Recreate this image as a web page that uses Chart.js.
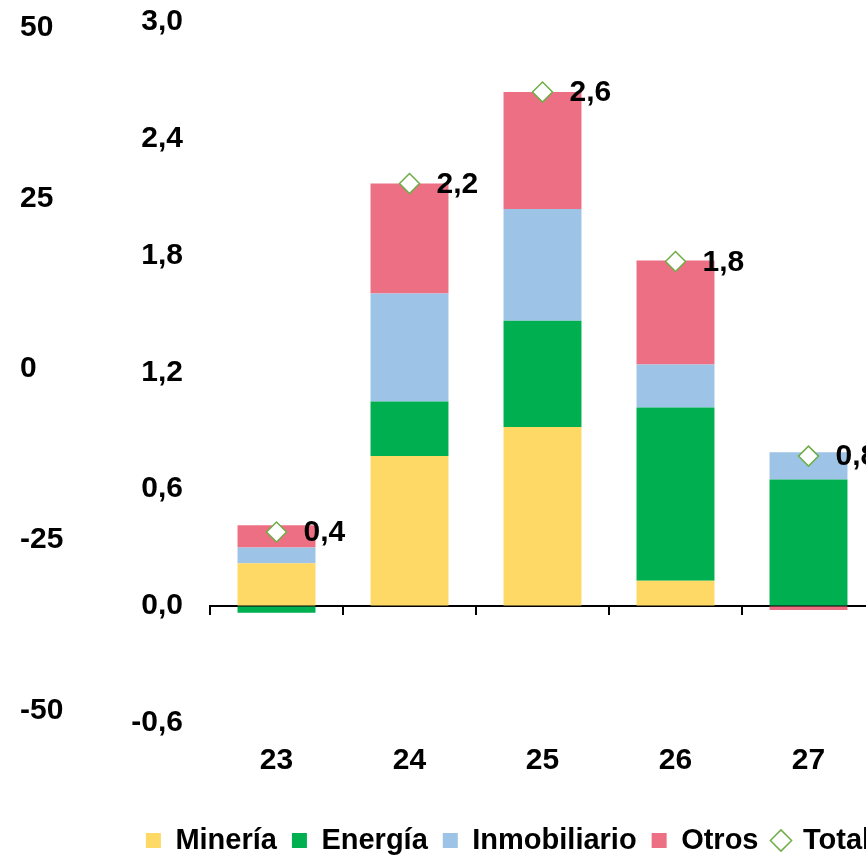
<!DOCTYPE html>
<html>
<head>
<meta charset="utf-8">
<script src="https://cdn.jsdelivr.net/npm/chart.js@4.4.1/dist/chart.umd.min.js"></script>
<style>
  html, body { margin: 0; padding: 0; overflow: hidden; background: #fff; }
  #wrap { position: absolute; left: 0; top: 0; width: 1016px; height: 857px; }
</style>
</head>
<body>
<div id="wrap"><canvas id="c" width="1016" height="857"></canvas></div>
<script>
// ---- data ----
const categories   = ['23', '24', '25', '26', '27'];
const mineria      = [0.22, 0.77, 0.92, 0.13, 0.00];
const energia      = [-0.035, 0.28, 0.545, 0.89, 0.65];
const inmobiliario = [0.08, 0.555, 0.575, 0.22, 0.14];
const otros        = [0.115, 0.565, 0.60, 0.535, -0.02];
const total        = [0.38, 2.17, 2.64, 1.77, 0.77];
const leftTicks    = [-0.6, 0, 0.6, 1.2, 1.8, 2.4, 3.0];
const outerTicks   = [-50, -25, 0, 25, 50];

const FONT = "'Liberation Sans', Arial, Helvetica, sans-serif";
const fmt = v => v.toFixed(1).replace('.', ',');

const totalLabels = {
  id: 'totalLabels',
  afterDatasetsDraw(chart) {
    const idx = chart.data.datasets.findIndex(d => d.label === 'Total');
    const meta = chart.getDatasetMeta(idx);
    const ctx = chart.ctx;
    ctx.save();
    ctx.font = 'bold 30px ' + FONT;
    ctx.fillStyle = '#000';
    ctx.textAlign = 'left';
    ctx.textBaseline = 'middle';
    meta.data.forEach((pt, i) => {
      ctx.fillText(fmt(total[i]), pt.x + 27, pt.y + 1);
    });
    ctx.restore();
  }
};

new Chart(document.getElementById('c'), {
  data: {
    labels: categories,
    datasets: [
      { type: 'bar', label: 'Minería', data: mineria, backgroundColor: '#FFD966', pointStyle: 'rect', xAxisID: 'x', yAxisID: 'y' },
      { type: 'bar', label: 'Energía', data: energia, backgroundColor: '#00B050', pointStyle: 'rect', xAxisID: 'x', yAxisID: 'y' },
      { type: 'bar', label: 'Inmobiliario', data: inmobiliario, backgroundColor: '#9DC3E6', pointStyle: 'rect', xAxisID: 'x', yAxisID: 'y' },
      { type: 'bar', label: 'Otros', data: otros, backgroundColor: '#EC6F84', pointStyle: 'rect', xAxisID: 'x', yAxisID: 'y' },
      { type: 'line', label: 'Total', data: total, showLine: false, stack: 'total', order: -1,
        pointStyle: 'rectRot', pointRadius: 10, pointHoverRadius: 10,
        pointBackgroundColor: '#FFFFFF', pointBorderColor: '#70AD47', pointBorderWidth: 1.5,
        backgroundColor: '#FFFFFF', borderColor: '#70AD47', xAxisID: 'x', yAxisID: 'y' }
    ]
  },
  options: {
    responsive: false,
    animation: false,
    devicePixelRatio: 1,
    layout: { padding: { left: 20, right: 20, top: 22, bottom: -8 } },
    datasets: { bar: { categoryPercentage: 1.0, barPercentage: 0.586 } },
    plugins: {
      tooltip: { enabled: false },
      legend: {
        position: 'bottom',
        labels: {
          usePointStyle: true,
          boxWidth: 15, boxHeight: 15,
          padding: 15,
          color: '#000',
          font: { family: FONT, size: 29, weight: 'bold' },
          sort: (a, b) => a.datasetIndex - b.datasetIndex
        }
      }
    },
    scales: {
      x: {
        type: 'category', position: 'bottom', stacked: true, offset: true,
        grid: { display: false, drawTicks: false },
        border: { display: false },
        ticks: { color: '#000', padding: 19.7, font: { family: FONT, size: 30, weight: 'bold' }, maxRotation: 0 },
        afterFit: s => { s.height = 88.2; }
      },
      x2: {
        type: 'category', position: { y: 0 }, offset: true,
        grid: { display: true, offset: true, drawOnChartArea: false, drawTicks: true, tickLength: 8, color: '#000', lineWidth: 2 },
        border: { display: true, color: '#000', width: 2 },
        ticks: { display: false }
      },
      y: {
        type: 'linear', position: 'left', stacked: true, weight: 0,
        min: leftTicks[0], max: leftTicks[leftTicks.length - 1],
        afterBuildTicks: s => { s.ticks = leftTicks.map(v => ({ value: v })); },
        afterFit: s => { s.width = 80; },
        grid: { display: true, drawOnChartArea: false, drawTicks: true, tickLength: 27, color: 'rgba(0,0,0,0)' },
        border: { display: false },
        ticks: { color: '#000', padding: 0, font: { family: FONT, size: 30, weight: 'bold' }, callback: v => fmt(v) }
      },
      y2: {
        type: 'linear', position: 'left', weight: 1,
        min: -51.73, max: 50.80,
        afterBuildTicks: s => { s.ticks = outerTicks.map(v => ({ value: v })); },
        afterFit: s => { s.width = 110; },
        grid: { display: false, drawTicks: false },
        border: { display: false },
        ticks: { color: '#000', crossAlign: 'far', padding: 0, font: { family: FONT, size: 30, weight: 'bold' }, callback: v => String(v) }
      },
      yR: {
        type: 'linear', position: 'right', min: 0, max: 1,
        afterFit: s => { s.width = 121; },
        grid: { display: false, drawTicks: false },
        border: { display: false },
        ticks: { display: false }
      }
    }
  },
  plugins: [totalLabels]
});
</script>
</body>
</html>
